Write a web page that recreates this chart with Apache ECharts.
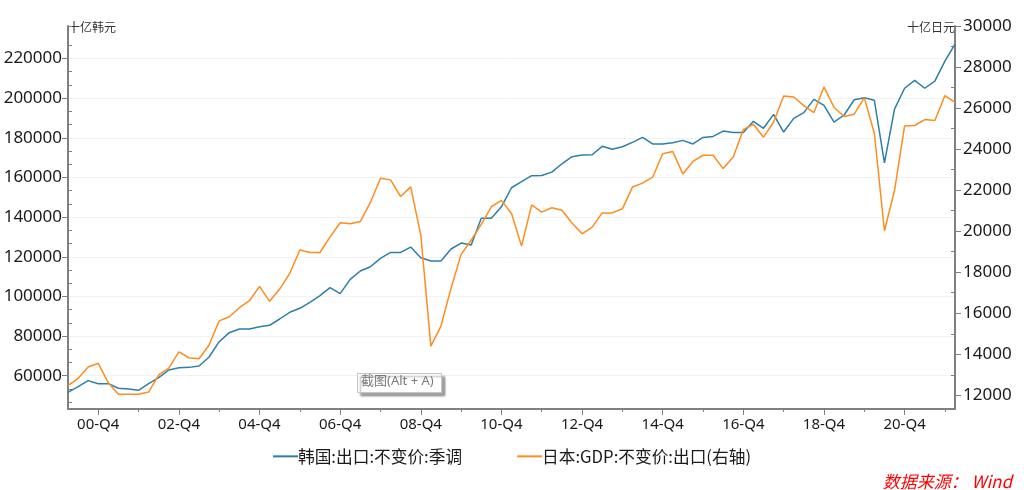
<!DOCTYPE html>
<html>
<head>
<meta charset="utf-8">
<style>html,body{margin:0;padding:0;background:#fff}#chart{width:1024px;height:490px}</style>
<script src="https://cdn.jsdelivr.net/npm/echarts@6/dist/echarts.min.js"></script>
</head>
<body>
<div id="chart"></div>
<script>
const quarters = [
  '00-Q1','00-Q2','00-Q3','00-Q4','01-Q1','01-Q2','01-Q3','01-Q4','02-Q1','02-Q2','02-Q3','02-Q4',
  '03-Q1','03-Q2','03-Q3','03-Q4','04-Q1','04-Q2','04-Q3','04-Q4','05-Q1','05-Q2','05-Q3','05-Q4',
  '06-Q1','06-Q2','06-Q3','06-Q4','07-Q1','07-Q2','07-Q3','07-Q4','08-Q1','08-Q2','08-Q3','08-Q4',
  '09-Q1','09-Q2','09-Q3','09-Q4','10-Q1','10-Q2','10-Q3','10-Q4','11-Q1','11-Q2','11-Q3','11-Q4',
  '12-Q1','12-Q2','12-Q3','12-Q4','13-Q1','13-Q2','13-Q3','13-Q4','14-Q1','14-Q2','14-Q3','14-Q4',
  '15-Q1','15-Q2','15-Q3','15-Q4','16-Q1','16-Q2','16-Q3','16-Q4','17-Q1','17-Q2','17-Q3','17-Q4',
  '18-Q1','18-Q2','18-Q3','18-Q4','19-Q1','19-Q2','19-Q3','19-Q4','20-Q1','20-Q2','20-Q3','20-Q4',
  '21-Q1','21-Q2','21-Q3','21-Q4','22-Q1'
]
const koreaExports = [
  51630,54450,57500,55970,55970,53640,53300,52600,56000,59000,62870,64030,
  64200,64900,69430,77150,81700,83550,83550,84700,85400,88600,92000,94000,
  97000,100350,104400,101400,108620,112800,114980,119200,122200,122200,124900,119500,
  117850,117850,123900,126900,125900,139400,139400,145200,154800,157850,160900,161000,
  162700,166900,170500,171300,171450,175700,174200,175500,177700,180200,176900,176900,
  177500,178700,176900,180200,180700,183400,182700,182700,188300,184800,191800,182900,
  189800,192700,199400,196400,187900,191500,199200,200200,198900,167300,194500,205000,
  209000,205000,208600,218700,227200
]
const japanExports = [
  12470,12830,13380,13560,12610,12050,12050,12050,12160,13000,13330,14120,
  13830,13780,14450,15630,15830,16270,16610,17310,16580,17180,17940,19080,
  18960,18960,19720,20410,20360,20470,21400,22580,22500,21690,22160,19810,
  14400,15375,17210,18870,19560,20330,21190,21500,20860,19270,21280,20930,
  21140,21020,20400,19870,20200,20890,20890,21090,22150,22340,22630,23770,
  23880,22790,23400,23700,23700,23050,23620,24950,25210,24580,25310,26590,
  26540,26120,25780,27030,26030,25590,25700,26510,24760,20020,21980,25130,
  25150,25440,25390,26610,26280
]
const leftTicks = [60000,80000,100000,120000,140000,160000,180000,200000,220000]
const leftMinorTicks = [
  46667,53333,66667,73333,86667,93333,106667,113333,126667,133333,
  146667,153333,166667,173333,186667,193333,206667,213333,226667,236400
]
const rightTicks = [12000,14000,16000,18000,20000,22000,24000,26000,28000,30000]
const rightMinorTicks = [13000,15000,17000,19000,21000,23000,25000,27000,29000]

const KOREA_NAME = '韩国:出口:不变价:季调'
const JAPAN_NAME = '日本:GDP:不变价:出口(右轴)'
const LEFT_RANGE = [43200, 236400]
const RIGHT_RANGE = [11333, 30000]
const AXIS_COLOR = '#808080'
const TEXT_COLOR = '#1a1a1a'
const LATIN_FONT = '"Noto Sans", "Noto Sans CJK SC", sans-serif'
const CJK_FONT = '"Noto Sans CJK SC", sans-serif'

const chart = echarts.init(document.getElementById('chart'), null, { renderer: 'canvas' })

const minorAxis = (position, range, values) => ({
  type: 'value',
  position,
  min: range[0],
  max: range[1],
  axisLine: { show: false },
  axisLabel: { show: false },
  splitLine: { show: false },
  axisTick: { show: true, inside: true, length: 4, customValues: values, lineStyle: { color: AXIS_COLOR } }
})

chart.setOption({
  animation: false,
  backgroundColor: '#fff',
  color: ['#2b7fa8', '#ff8c1e'],
  title: {
    text: '数据来源： Wind',
    right: 12,
    top: 473,
    padding: 0,
    textStyle: { color: '#ff0000', fontStyle: 'italic', fontWeight: 'normal', fontSize: 17, fontFamily: CJK_FONT }
  },
  grid: { left: 68, right: 69, top: 26, bottom: 81, containLabel: false },
  legend: {
    left: 272,
    top: 448,
    padding: 0,
    itemWidth: 25,
    itemHeight: 14,
    itemGap: 54,
    itemStyle: { opacity: 0 },
    data: [KOREA_NAME, JAPAN_NAME],
    textStyle: { color: TEXT_COLOR, fontSize: 16.7, fontFamily: CJK_FONT, padding: [0, 0, 0, -5] }
  },
  xAxis: [
    {
      type: 'category',
      boundaryGap: false,
      data: quarters,
      axisLine: { lineStyle: { color: AXIS_COLOR, width: 2 } },
      axisTick: { length: 6, interval: idx => (idx - 3) % 8 === 0, lineStyle: { color: AXIS_COLOR } },
      axisLabel: {
        interval: idx => (idx - 3) % 8 === 0,
        color: TEXT_COLOR,
        fontSize: 15,
        margin: 8,
        fontFamily: LATIN_FONT
      }
    },
    {
      type: 'category',
      position: 'bottom',
      boundaryGap: false,
      data: quarters,
      axisLine: { show: false },
      axisLabel: { show: false },
      axisTick: { length: 3, interval: idx => (idx - 3) % 4 === 0, lineStyle: { color: AXIS_COLOR } }
    }
  ],
  yAxis: [
    {
      type: 'value',
      position: 'left',
      min: LEFT_RANGE[0],
      max: LEFT_RANGE[1],
      name: '十亿韩元',
      nameLocation: 'end',
      nameGap: -1,
      nameTextStyle: { align: 'left', verticalAlign: 'middle', color: '#333', fontSize: 12, fontFamily: CJK_FONT },
      axisLine: { show: true, lineStyle: { color: AXIS_COLOR, width: 2 } },
      axisTick: { show: true, length: 6, customValues: leftTicks, lineStyle: { color: AXIS_COLOR } },
      axisLabel: {
        customValues: leftTicks,
        formatter: v => String(v),
        color: TEXT_COLOR,
        fontSize: 17,
        margin: 6,
        fontFamily: LATIN_FONT
      },
      splitLine: { show: true, lineStyle: { color: '#f2f2f2', width: 1 } }
    },
    {
      type: 'value',
      position: 'right',
      min: RIGHT_RANGE[0],
      max: RIGHT_RANGE[1],
      name: '十亿日元',
      nameLocation: 'end',
      nameGap: -1,
      nameTextStyle: { align: 'right', verticalAlign: 'middle', color: '#333', fontSize: 12, fontFamily: CJK_FONT },
      axisLine: { show: true, lineStyle: { color: AXIS_COLOR, width: 2 } },
      axisTick: { show: true, length: 6, customValues: rightTicks, lineStyle: { color: AXIS_COLOR } },
      axisLabel: {
        customValues: rightTicks,
        formatter: v => String(v),
        color: TEXT_COLOR,
        fontSize: 17,
        margin: 8,
        fontFamily: LATIN_FONT
      },
      splitLine: { show: false }
    },
    minorAxis('left', LEFT_RANGE, leftMinorTicks),
    minorAxis('right', RIGHT_RANGE, rightMinorTicks)
  ],
  series: [
    {
      name: KOREA_NAME,
      type: 'line',
      yAxisIndex: 0,
      data: koreaExports,
      symbol: 'none',
      lineStyle: { width: 1.5 }
    },
    {
      name: JAPAN_NAME,
      type: 'line',
      yAxisIndex: 1,
      data: japanExports,
      symbol: 'none',
      lineStyle: { width: 1.5 }
    }
  ],
  graphic: [
    {
      type: 'rect',
      left: 357,
      top: 373,
      z: 100,
      shape: { width: 84, height: 19 },
      style: { fill: '#fff', stroke: '#c4c4c4', lineWidth: 1, shadowBlur: 2, shadowOffsetX: 3, shadowOffsetY: 3, shadowColor: 'rgba(0,0,0,0.35)' }
    },
    {
      type: 'text',
      left: 361,
      top: 375,
      z: 101,
      style: { text: '截图(Alt + A)', fill: '#7a7a7a', font: '13px ' + LATIN_FONT }
    }
  ]
})
</script>
</body>
</html>
